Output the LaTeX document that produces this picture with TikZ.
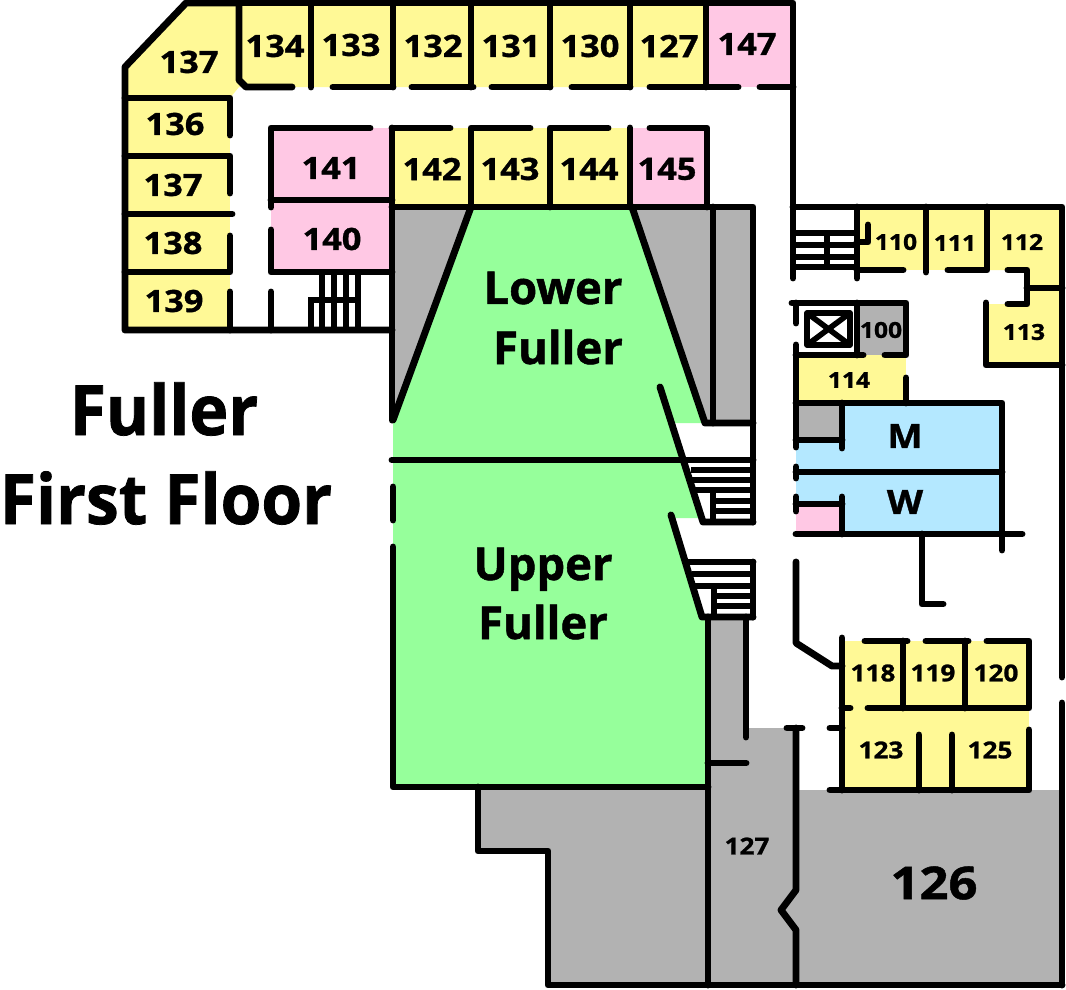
\documentclass[tikz,border=0pt]{standalone}
\usepackage{fontspec}
\setmainfont{Open Sans}[BoldFeatures={FakeBold=1.1}]
\newfontfamily\roomfont{Open Sans}[BoldFeatures={FakeBold=1.1,FakeStretch=1.12}]
\newfontfamily\titlefont{Open Sans}[BoldFeatures={FakeBold=1.1,FakeStretch=0.95}]
\definecolor{RoomYellow}{RGB}{255, 249, 150}
\definecolor{RoomPink}{RGB}{255, 200, 228}
\definecolor{HallGreen}{RGB}{150, 255, 155}
\definecolor{RestBlue}{RGB}{180, 232, 255}
\definecolor{StoreGray}{RGB}{178, 178, 178}
\begin{document}
\begin{tikzpicture}[x=0.75pt, y=-0.75pt,
        wall/.style={line width=5.2pt, line cap=round, line join=round},
        stair/.style={line width=4.3pt, line cap=butt},
        wing/.style={fill=RoomYellow},
        office/.style={fill=RoomPink},
        hall/.style={fill=HallGreen},
        store/.style={fill=StoreGray},
        rest/.style={fill=RestBlue},
        bigroom/.style={inner sep=0pt, font=\fontsize{23}{23}\selectfont\roomfont\bfseries},
        tinyroom/.style={inner sep=0pt, font=\fontsize{16.5}{16.5}\selectfont\roomfont\bfseries},
        smallroom/.style={inner sep=0pt, font=\fontsize{17.5}{17.5}\selectfont\roomfont\bfseries},
        hugeroom/.style={inner sep=0pt, font=\fontsize{34}{34}\selectfont\roomfont\bfseries},
        hallname/.style={inner sep=0pt, font=\fontsize{34}{34}\selectfont\bfseries},
        title/.style={inner sep=0pt, font=\fontsize{52}{52}\selectfont\titlefont\bfseries}
    ]
    \useasboundingbox (0,0) rectangle (1066,989);

    % fills
    \fill[wing] (125,67) -- (186,3) -- (706,3) -- (706,87) -- (239,87) -- (230,98) -- (125,98) -- cycle;
    \fill[wing] (125,98) rectangle (230,330);
    \fill[office] (706,3) rectangle (793,87);
    \fill[office] (271,128) rectangle (392,272);
    \fill[wing] (392,128) rectangle (630,207);
    \fill[office] (630,128) rectangle (707,207);
    \fill[store] (392,207) -- (471,207) -- (393,420) -- cycle;
    \fill[store] (632,207) -- (753,207) -- (753,423) -- (705,423) -- cycle;
    \fill[hall] (393,420) -- (471,207) -- (632,207) -- (705,423) -- (673,423) -- (703,518) -- (673,518) -- (702,617) -- (708,617) -- (708,787) -- (393,787) -- cycle;
    \fill[store] (708,617) -- (746,617) -- (746,728) -- (796,728) -- (796,790) -- (1062,790) -- (1062,985) -- (548,985) -- (548,851) -- (478,851) -- (478,787) -- (708,787) -- cycle;
    \fill[wing] (857,207) rectangle (987,270);
    \fill[wing] (987,207) -- (1062,207) -- (1062,288) -- (1027,288) -- (1027,270) -- (987,270) -- cycle;
    \fill[wing] (986,304) -- (1027,304) -- (1027,288) -- (1062,288) -- (1062,365) -- (986,365) -- cycle;
    \fill[store] (857,303) rectangle (906,355);
    \fill[wing] (796,355) rectangle (906,403);
    \fill[store] (796,403) rectangle (842,440);
    \fill[rest] (842,403) -- (1002,403) -- (1002,534) -- (842,534) -- (842,504) -- (796,504) -- (796,440) -- (842,440) -- cycle;
    \fill[office] (796,504) rectangle (842,534);
    \fill[wing] (842,641) rectangle (1029,790);

    % top wing walls
    \draw[wall] (239,3) -- (186,3) -- (125,67) -- (125,330) -- (392,330);
    \draw[wall] (239,3) -- (793,3) -- (793,278);
    \draw[wall] (239,3) -- (239,80) -- (246,87) -- (292,87);
    \draw[wall] (333,87) -- (393,87);
    \draw[wall] (412,87) -- (473,87);
    \draw[wall] (492,87) -- (550,87);
    \draw[wall] (572,87) -- (630,87);
    \draw[wall] (650,87) -- (738,87);
    \draw[wall] (760,87) -- (793,87);
    \foreach \wx in {311,393,471,550,630,706}
        \draw[wall] (\wx,3) -- (\wx,87);

    % left wing walls
    \draw[wall] (125,98) -- (230,98) -- (230,135);
    \draw[wall] (125,156) -- (230,156) -- (230,193);
    \draw[wall] (125,214) -- (232,214);
    \draw[wall] (230,236) -- (230,272) -- (125,272);
    \draw[wall] (230,292) -- (230,330);
    \draw[wall] (271,207) -- (271,128) -- (370,128);
    \draw[wall] (271,230) -- (271,272) -- (392,272);
    \draw[wall] (271,292) -- (271,330);
    \draw[wall] (271,200) -- (392,200);

    % middle row walls
    \draw[wall] (392,128) -- (450,128);
    \draw[wall] (392,128) -- (392,420);
    \draw[wall] (471,207) -- (471,128) -- (530,128);
    \draw[wall] (550,207) -- (550,128) -- (608,128);
    \draw[wall] (630,207) -- (630,128);
    \draw[wall] (650,128) -- (707,128) -- (707,207);
    \draw[wall] (392,207) -- (753,207) -- (753,522);
    \draw[wall] (713,207) -- (713,423);

    % stairs by 140
    \foreach \sx in {322,334,346,358}
        \draw[stair] (\sx,272) -- (\sx,330);
    \draw[stair] (311,330) -- (311,300) -- (358,300);

    % hall walls
    \draw[wall] (471,207) -- (393,420);
    \draw[wall] (632,207) -- (705,423) -- (753,423);
    \draw[wall] (660,387) -- (703,522) -- (753,522);
    \draw[wall] (392,460) -- (753,460);
    \draw[wall] (393,487) -- (393,520);
    \draw[wall] (393,547) -- (393,787) -- (708,787);
    \draw[wall] (671,515) -- (702,617) -- (753,617);
    \draw[wall] (753,562) -- (753,617);
    \foreach \sy in {470,480,490}
        \draw[stair] (691,\sy) -- (753,\sy);
    \foreach \sy in {501,511}
        \draw[stair] (713,\sy) -- (753,\sy);
    \draw[stair] (713,490) -- (713,522);
    \draw[wall] (688,562) -- (753,562);
    \draw[stair] (692,574) -- (753,574);
    \draw[stair] (695,586) -- (753,586);
    \foreach \sy in {596,606}
        \draw[stair] (714,\sy) -- (753,\sy);
    \draw[stair] (714,586) -- (714,617);

    % lower gray rooms
    \draw[wall] (478,787) -- (478,851) -- (548,851) -- (548,985) -- (1062,985);
    \draw[wall] (708,617) -- (708,985);
    \draw[wall] (746,617) -- (746,737);
    \draw[wall] (708,763) -- (746,763);
    \draw[wall] (787,728) -- (802,728);
    \draw[wall] (796,728) -- (796,890) -- (781,910) -- (796,930) -- (796,985);

    % east side walls
    \draw[wall] (793,207) -- (1062,207) -- (1062,677);
    \draw[wall] (1062,703) -- (1062,985);
    \draw[wall] (857,207) -- (857,278);
    \draw[wall] (926,207) -- (926,272);
    \draw[wall] (987,207) -- (987,270) -- (948,270);
    \draw[wall] (857,270) -- (903,270);
    \draw[wall] (1008,270) -- (1027,270) -- (1027,304) -- (1008,304);
    \draw[wall] (1027,288) -- (1062,288);
    \draw[wall] (986,303) -- (986,365) -- (1062,365);
    \foreach \sy in {233,245,257,267}
        \draw[stair] (793,\sy) -- (857,\sy);
    \draw[stair] (827,233) -- (827,267);
    \draw[wall] (868,225) -- (868,242) -- (857,242);

    % lift and 100
    \draw[wall] (792,303) -- (906,303) -- (906,355) -- (885,355);
    \draw[wall] (796,303) -- (796,323);
    \draw[wall] (796,345) -- (796,447);
    \draw[wall] (857,303) -- (857,355);
    \draw[wall] (796,355) -- (863,355);
    \draw[line width=4.3pt, line join=round] (807,313) rectangle (850,345);
    \draw[line width=4.2pt] (807,313) -- (850,345) (807,345) -- (850,313);

    % rest rooms
    \draw[wall] (906,378) -- (906,403);
    \draw[wall] (796,403) -- (1002,403) -- (1002,550);
    \draw[wall] (842,403) -- (842,448);
    \draw[wall] (796,440) -- (842,440);
    \draw[wall] (796,467) -- (796,478);
    \draw[wall] (796,472) -- (1002,472);
    \draw[wall] (796,497) -- (796,511);
    \draw[wall] (796,504) -- (842,504);
    \draw[wall] (842,497) -- (842,534);
    \draw[wall] (796,534) -- (1022,534);
    \draw[wall] (922,534) -- (922,604) -- (943,604);

    % south east rooms
    \draw[wall] (796,562) -- (796,643) -- (832,666) -- (842,666);
    \draw[wall] (842,638) -- (842,790);
    \draw[wall] (842,708) -- (850,708);
    \draw[wall] (830,728) -- (842,728);
    \draw[wall] (830,790) -- (1029,790) -- (1029,730);
    \draw[wall] (865,641) -- (907,641);
    \draw[wall] (926,641) -- (968,641);
    \draw[wall] (987,641) -- (1029,641) -- (1029,708) -- (868,708);
    \draw[wall] (903,641) -- (903,708);
    \draw[wall] (965,641) -- (965,708);
    \draw[wall] (919,735) -- (919,790);
    \draw[wall] (952,735) -- (952,790);

    % room labels
    \foreach \rx/\ry/\rid/\rtext in {189/62/a/137,275/46/b/134,351/45/c/133,433/46/d/132,511/46/e/131,590/46/f/130,669/46/g/127,747/44/h/147,
        175/124/i/136,173/185/j/137,173/243/k/138,174/301/l/139,331/168/m/141,332/239/n/140,432/169/o/142,510/169/p/143,589/169/q/144,667/169/r/145}
        \node[bigroom] (room\rid) at (\rx,\ry) {\rtext};
    \foreach \rx/\ry/\rtext in {896/242/110,955/243/111,1022/242/112,1024/332/113,881/330/100,849/380/114}
        \node[tinyroom] (room\rtext) at (\rx,\ry) {\rtext};
    \foreach \rx/\ry/\rtext in {873/673/118,933/673/119,996/673/120,881/750/123,990/750/125}
        \node[smallroom] (room\rtext) at (\rx,\ry) {\rtext};
    \node[smallroom] (roomstair) at (747,846) {127};
    \node[bigroom, font=\fontsize{25}{25}\selectfont\roomfont\bfseries] (roommen) at (905,436) {M};
    \node[bigroom, font=\fontsize{25}{25}\selectfont\roomfont\bfseries] (roomwomen) at (905,502) {W};
    \node[hugeroom] (roombig) at (934,883) {126};

    % hall names and title
    \node[hallname] (lowerA) at (553,288) {Lower};
    \node[hallname] (lowerB) at (558,347) {Fuller};
    \node[hallname, anchor=base] (upperA) at (543,580) {Upper};
    \node[hallname] (upperB) at (543,622) {Fuller};
    \node[title] (titleA) at (164,409) {Fuller};
    \node[title] (titleB) at (166,498) {First Floor};
\end{tikzpicture}
\end{document}
